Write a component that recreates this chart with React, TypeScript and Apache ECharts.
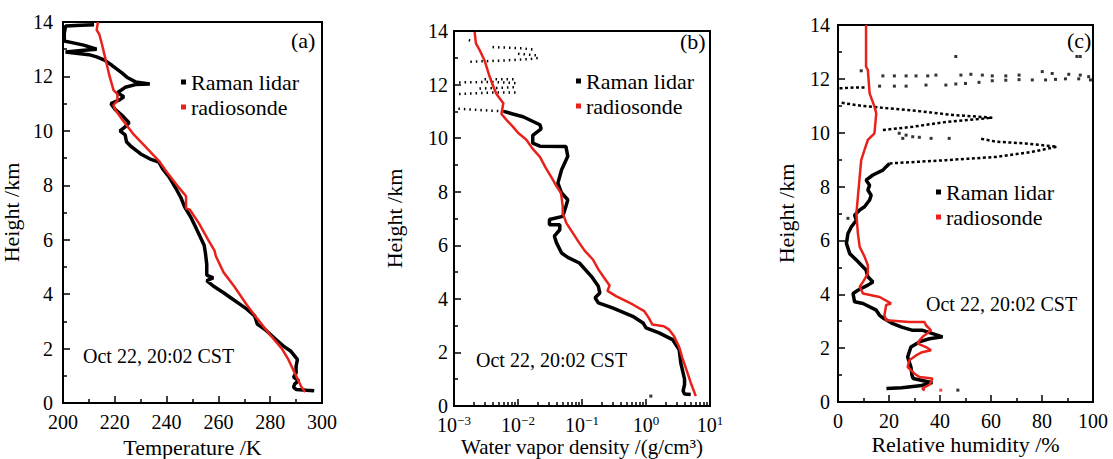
import React, { useEffect, useRef } from "react";
import * as echarts from "echarts";

const FONT = '"Liberation Serif", "Times New Roman", serif';
const RED = "#e8221b";
const BLACK = "#000000";

const heightTicks = [0, 2, 4, 6, 8, 10, 12, 14];
const tempTicks = [200, 220, 240, 260, 280, 300];
const rhTicks = [0, 20, 40, 60, 80, 100];
const legendNames = ["Raman lidar", "radiosonde"];
const stamp = "Oct 22, 20:02 CST";

// Panel (a): temperature [K, km]
const tempRadiosonde = [[293.5,0.4],[292,0.6],[290.5,0.9],[289,1.2],[287,1.6],[284.5,2.0],[280,2.5],[275,3.1],[271,3.6],[266,4.3],[262,4.8],[259,5.4],[258.5,5.6],[256,6.0],[252.5,6.6],[249,7.1],[247.5,7.15],[247.5,7.6],[244,8.0],[240,8.5],[237,8.9],[232,9.4],[227,9.9],[223,10.4],[220,10.8],[219.5,10.95],[221,11.1],[221,11.35],[219.5,11.5],[218,12.0],[217,12.4],[216,12.8],[215,13.2],[214,13.55],[213,13.7],[213.5,14]];
const tempLidar = [[297,0.45],[294,0.47],[290,0.5],[289,0.58],[289.5,0.7],[291,0.82],[289,0.95],[290,1.1],[290,1.35],[290.5,1.6],[288,1.9],[285,2.1],[282,2.35],[278,2.7],[275,2.9],[274,3.2],[271,3.45],[268,3.65],[265,3.85],[262,4.05],[258,4.3],[255.5,4.5],[258,4.6],[255.5,4.7],[255.5,5.1],[255,5.5],[254.5,5.8],[253,6.1],[251,6.5],[249.5,6.8],[247,7.2],[245.5,7.55],[243.5,7.9],[241,8.3],[238.5,8.6],[237,8.85],[234,8.95],[230,9.15],[226,9.45],[224.5,9.6],[224,9.85],[222,10.0],[224,10.15],[225.5,10.3],[223,10.55],[220,10.8],[218.5,11.0],[222,11.15],[223.5,11.25],[221,11.4],[224,11.6],[228,11.7],[233.5,11.72],[228,11.8],[225,11.95],[222.5,12.15],[219,12.4],[216,12.6],[213,12.72],[210,12.8],[205,12.85],[201,12.9],[207,12.95],[213,13.0],[208,13.15],[203,13.25],[200.5,13.3],[200.5,13.6],[201,13.85],[207,13.88],[212,13.9]];

// Panel (b): water vapor density [g/cm3, km]
const wvRadiosonde = [[6.0,0.37],[5.0,0.87],[4.5,1.2],[3.7,1.8],[3.3,2.2],[2.75,2.6],[2.3,2.85],[1.9,2.98],[1.26,3.04],[1.1,3.3],[0.94,3.54],[0.62,3.79],[0.34,4.1],[0.25,4.3],[0.27,4.5],[0.22,4.8],[0.18,5.1],[0.148,5.47],[0.11,5.8],[0.09,6.1],[0.07,6.5],[0.057,6.83],[0.05,7.2],[0.05,7.45],[0.047,7.95],[0.04,8.2],[0.035,8.45],[0.027,8.9],[0.022,9.3],[0.017,9.6],[0.0135,9.94],[0.01,10.2],[0.0083,10.43],[0.0065,10.7],[0.0055,10.9],[0.0059,11.3],[0.0046,11.65],[0.004,12.0],[0.0036,12.3],[0.003,12.9],[0.0025,13.3],[0.0022,13.54],[0.0021,13.97]];
const wvLidar = [[5.0,0.43],[4.0,0.45],[3.8,0.56],[4.0,0.8],[4.0,1.0],[3.5,1.6],[3.3,2.1],[2.6,2.48],[1.6,2.73],[1.0,2.92],[0.9,3.1],[0.62,3.35],[0.3,3.66],[0.18,3.85],[0.16,4.04],[0.19,4.22],[0.18,4.47],[0.14,4.84],[0.091,5.34],[0.06,5.55],[0.048,5.71],[0.04,6.09],[0.037,6.34],[0.045,6.58],[0.045,6.77],[0.031,6.77],[0.031,6.96],[0.05,7.08],[0.056,7.45],[0.06,7.7],[0.048,7.95],[0.042,8.32],[0.048,8.82],[0.06,9.32],[0.056,9.69],[0.022,9.7],[0.017,9.81],[0.017,10.1],[0.023,10.35],[0.022,10.5],[0.012,10.8],[0.0083,10.9],[0.006,11.0]];
const wvLidarSparse = [[0.006,11.0],[0.0025,11.05],[0.0011,11.1],["-","-"],[0.0012,11.65],[0.004,11.7],[0.0095,11.7],["-","-"],[0.0025,11.85],[0.009,11.9],["-","-"],[0.0012,12.08],[0.004,12.1],[0.0095,12.05],["-","-"],[0.003,12.2],[0.0095,12.2],["-","-"],[0.0018,12.85],[0.006,12.9],[0.015,12.95],[0.022,13.0],["-","-"],[0.01,13.15],[0.022,13.08],["-","-"],[0.004,13.4],[0.012,13.35],[0.018,13.3],["-","-"],[0.0017,13.66],[0.002,13.62]];
const wvLidarDots = [[1.19,0.37]];

// Panel (c): relative humidity [%, km]
const rhRadiosonde = [[34,0.43],[33,0.5],[36,0.65],[37,0.87],[32,0.93],[30,1.05],[28.6,1.18],[27.3,1.3],[28,1.55],[30.6,1.73],[33,1.85],[36.5,1.92],[34.5,2.04],[31.3,2.17],[32,2.3],[33.2,2.42],[36.5,2.66],[34.5,2.85],[33.9,2.97],[28,2.97],[18.9,3.04],[18.2,3.22],[18.9,3.6],[20.8,3.66],[16.3,3.9],[9.8,4.03],[8.5,4.28],[9.8,4.46],[11.7,4.77],[11.7,5.08],[10.4,5.4],[8.5,5.76],[7.8,6.26],[7.2,7.0],[7.8,7.62],[8.5,8.36],[9.1,8.98],[10.4,9.36],[11.7,9.73],[14.3,9.98],[15,10.72],[14.3,10.97],[12.4,11.46],[11.7,12.33],[11,12.45],[11,14]];
const rhRadiosondeDots = [[40.3,0.44]];
const rhLidar = [[19,0.5],[25,0.53],[32,0.6],[37,0.72],[33,0.8],[29.5,0.87],[29,1.0],[28.6,1.3],[27.3,1.67],[28.6,2.04],[31.9,2.23],[35.8,2.35],[41,2.42],[37.1,2.54],[33.2,2.66],[29.3,2.66],[25,2.78],[21.5,2.91],[18,3.1],[16.3,3.22],[15,3.41],[9.8,3.66],[6.5,3.72],[5.9,4.03],[7.8,4.15],[11.7,4.34],[13.7,4.46],[11.7,4.65],[11,4.9],[7.2,5.27],[4.6,5.51],[3.3,5.89],[3.9,6.26],[5.2,6.5],[7.2,6.75],[6.5,6.94],[8.5,7.13],[10.4,7.25],[12.4,7.5],[13,7.68],[11.7,7.87],[12.4,8.05],[11,8.24],[13.7,8.43],[17.6,8.61],[18.9,8.74],[20.2,8.86]];
const rhLidarSparse = [[20.2,8.86],[42.3,8.98],[61.8,9.1],[76.2,9.29],[85.9,9.48],[73.6,9.6],[61.8,9.67],[55.3,9.79],["-","-"],[17.6,10.1],[29.3,10.22],[42.3,10.4],[60.5,10.56],[44.9,10.66],[31.9,10.8],[20.2,10.9],[9.8,10.99],[0.7,11.12],["-","-"],[0.6,11.65],[7.2,11.68],[11,11.68]];
const rhLidarDots = [[3.9,6.82],[24,9.98],[26.7,9.91],[29.3,9.85],[31.9,9.83],[25.4,9.79],[36.5,9.79],[43.6,9.79],[16.3,11.73],[22.1,11.73],[26.7,11.73],[34.5,11.77],[42.3,11.77],[46.2,11.81],[50,11.83],[55.3,11.87],[60.5,11.93],[65.8,11.95],[71,11.97],[76.2,11.96],[81.4,11.96],[85.3,11.98],[89.2,12.0],[94.4,12.0],[99,11.96],[9.1,12.3],[17.6,12.11],[22.1,12.11],[26.7,12.11],[30.6,12.11],[35.2,12.11],[38.4,12.14],[48.2,12.14],[52.1,12.17],[56.6,12.14],[60.5,12.11],[65.8,12.11],[71,12.14],[80.1,12.27],[84,12.2],[90.5,12.17],[95,12.14],[98.3,12.08],[46.2,12.83],[93.7,12.83],[95,12.83]];
const rhLidarBottomDots = [[47,0.44]];

const minorLogTicks: number[] = [];
for (let k = -3; k < 1; k++) {
  for (let m = 2; m <= 9; m++) minorLogTicks.push(Math.log10(m * Math.pow(10, k)));
}

const labelStyle = { color: BLACK, fontSize: 20, fontFamily: FONT };
const nameStyle = { color: BLACK, fontSize: 21, fontFamily: FONT };

function yAxisFor(gridIndex: number, nameGap: number, labelMargin: number) {
  return {
    gridIndex,
    type: "value",
    min: heightTicks[0],
    max: heightTicks[heightTicks.length - 1],
    interval: 2,
    name: "Height /km",
    nameLocation: "middle",
    nameRotate: 90,
    nameGap,
    nameMoveOverlap: false,
    nameTextStyle: { ...nameStyle, fontSize: 22 },
    axisLine: { show: true, onZero: false, lineStyle: { color: BLACK, width: 2 } },
    axisTick: { show: true, inside: true, length: 7, lineStyle: { color: BLACK, width: 1.5 } },
    minorTick: { show: true, splitNumber: 2, length: 4, lineStyle: { color: BLACK, width: 1.5 } },
    splitLine: { show: false },
    minorSplitLine: { show: false },
    axisLabel: { ...labelStyle, margin: labelMargin },
  };
}

function linearX(gridIndex: number, ticks: number[], name: string, nameGap: number) {
  return {
    gridIndex,
    type: "value",
    position: "bottom",
    min: ticks[0],
    max: ticks[ticks.length - 1],
    interval: ticks[1] - ticks[0],
    name,
    nameLocation: "middle",
    nameGap,
    nameMoveOverlap: false,
    nameTextStyle: { ...nameStyle, fontSize: 22 },
    axisLine: { show: true, onZero: false, lineStyle: { color: BLACK, width: 2 } },
    axisTick: { show: true, inside: true, length: 7, lineStyle: { color: BLACK, width: 1.5 } },
    minorTick: { show: true, splitNumber: 2, length: 4, lineStyle: { color: BLACK, width: 1.5 } },
    splitLine: { show: false },
    minorSplitLine: { show: false },
    axisLabel: { ...labelStyle, margin: 9 },
  };
}

function legendAt(left: number, top: number) {
  return {
    data: legendNames,
    left,
    top,
    orient: "vertical",
    padding: 0,
    itemGap: 1,
    itemWidth: 5,
    itemHeight: 5,
    icon: "rect",
    selectedMode: false,
    textStyle: { color: BLACK, fontSize: 22, fontFamily: FONT, lineHeight: 24 },
  };
}

function lineSeries(name: string, data: any[], xi: number, yi: number, color: string, width: number, dash: number[] | null = null) {
  return {
    name,
    type: "line",
    xAxisIndex: xi,
    yAxisIndex: yi,
    data,
    symbol: "none",
    showSymbol: false,
    connectNulls: false,
    itemStyle: { color },
    lineStyle: { color, width, type: dash ? dash : "solid" },
    z: color === RED ? 4 : 3,
  };
}

function dotSeries(name: string, data: any[], xi: number, yi: number, color: string) {
  return {
    name,
    type: "scatter",
    xAxisIndex: xi,
    yAxisIndex: yi,
    data,
    symbol: "rect",
    symbolSize: 3,
    itemStyle: { color },
    z: 3,
  };
}

function txt(left: number, y: number, text: string, size: number) {
  return {
    type: "text",
    left,
    top: y - size * 0.6,
    style: { text, fill: BLACK, fontSize: size, fontFamily: FONT },
  };
}

export default function App() {
  const ref = useRef<HTMLDivElement>(null);
  useEffect(() => {
    if (!ref.current) return;
    const chart = echarts.init(ref.current, undefined, { renderer: "svg" });
    const gridBase = {
      show: true,
      borderColor: BLACK,
      borderWidth: 2,
      backgroundColor: "transparent",
      containLabel: false,
      outerBoundsMode: "none",
    };
    chart.setOption({
      animation: false,
      backgroundColor: "#ffffff",
      grid: [
        { ...gridBase, left: 63, top: 22, width: 259, height: 381 },
        { ...gridBase, left: 454, top: 31, width: 256, height: 375 },
        { ...gridBase, left: 838, top: 25, width: 255, height: 377 },
      ],
      xAxis: [
        linearX(0, tempTicks, "Temperature /K", 33),
        {
          gridIndex: 1,
          type: "log",
          logBase: 10,
          min: 0.001,
          max: 10,
          position: "bottom",
          name: "Water vapor density /(g/cm³)",
          nameLocation: "middle",
          nameGap: 30,
          nameMoveOverlap: false,
          nameTextStyle: nameStyle,
          axisLine: { show: true, onZero: false, lineStyle: { color: BLACK, width: 2 } },
          axisTick: { show: true, inside: true, length: 7, lineStyle: { color: BLACK, width: 1.5 } },
          minorTick: { show: false },
          splitLine: { show: false },
          axisLabel: {
            margin: 8,
            formatter: (v: number) => {
              const e = Math.round(Math.log10(v));
              return "{b|10}{s|" + (e < 0 ? "−" + -e : String(e)) + "}";
            },
            rich: {
              b: { ...labelStyle, lineHeight: 22 },
              s: { color: BLACK, fontSize: 13, fontFamily: FONT, verticalAlign: "top", lineHeight: 13 },
            },
          },
        },
        {
          gridIndex: 1,
          type: "value",
          min: -3,
          max: 1,
          position: "bottom",
          axisLine: { show: false, onZero: false },
          axisLabel: { show: false },
          splitLine: { show: false },
          axisTick: { show: true, inside: true, length: 4, customValues: minorLogTicks, lineStyle: { color: BLACK, width: 1.5 } },
        },
        linearX(2, rhTicks, "Relative humidity /%", 31),
      ],
      yAxis: [yAxisFor(0, 41, 10), yAxisFor(1, 49, 6), yAxisFor(2, 41, 8)],
      legend: [legendAt(181, 70), legendAt(576, 69), legendAt(936, 180)],
      graphic: [
        txt(291, 43, "(a)", 22),
        txt(680, 44, "(b)", 22),
        txt(1067, 43, "(c)", 22),
        txt(83, 358, stamp, 20),
        txt(476, 362, stamp, 20),
        txt(926, 306, stamp, 20),
      ],
      series: [
        lineSeries("Raman lidar", tempLidar, 0, 0, BLACK, 3.5),
        lineSeries("radiosonde", tempRadiosonde, 0, 0, RED, 2.5),
        lineSeries("Raman lidar", wvLidar, 1, 1, BLACK, 3.5),
        lineSeries("lidar sparse b", wvLidarSparse, 1, 1, BLACK, 2.5, [1.5, 4]),
        dotSeries("lidar dots b", wvLidarDots, 1, 1, BLACK),
        lineSeries("radiosonde", wvRadiosonde, 1, 1, RED, 2.5),
        lineSeries("Raman lidar", rhLidar, 3, 2, BLACK, 3.5),
        lineSeries("lidar sparse c", rhLidarSparse, 3, 2, BLACK, 2.5, [3, 2.5]),
        dotSeries("lidar dots c", rhLidarDots, 3, 2, BLACK),
        dotSeries("lidar dots c2", rhLidarBottomDots, 3, 2, BLACK),
        lineSeries("radiosonde", rhRadiosonde, 3, 2, RED, 2.5),
        dotSeries("radiosonde dots c", rhRadiosondeDots, 3, 2, RED),
      ],
    });
    return () => chart.dispose();
  }, []);
  return (
    <div
      ref={ref}
      style={{ position: "fixed", left: 0, top: 0, width: 1113, height: 459, background: "#fff" }}
    />
  );
}
